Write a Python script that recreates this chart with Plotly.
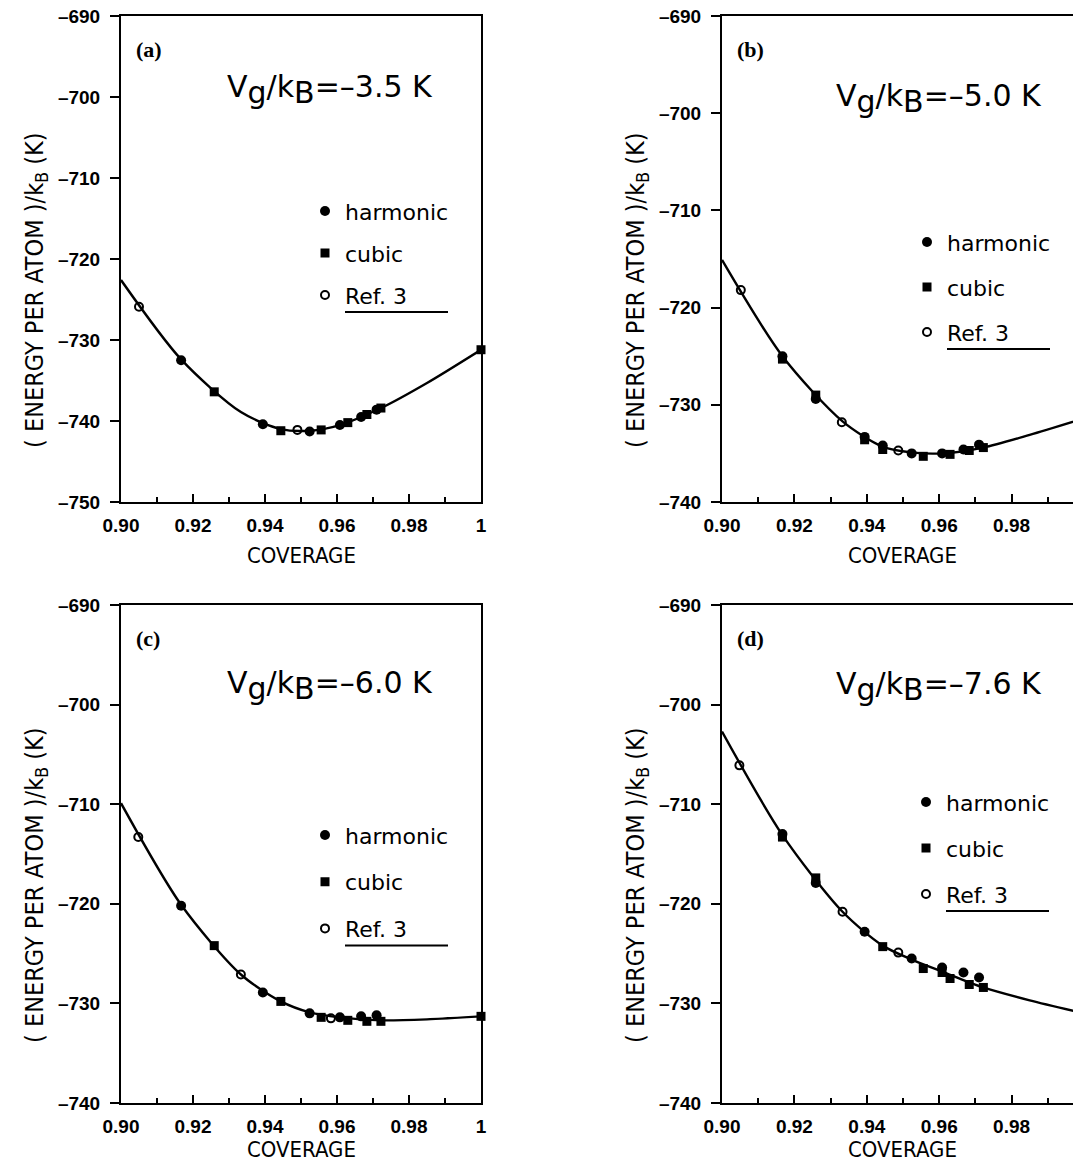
import plotly.graph_objects as go

W, H = 1081, 1160
OFF = 8  # the page body adds an 8 px margin; screen px = figure px + OFF

# ---------------- data ----------------
coverage_ticks = [0.90, 0.92, 0.94, 0.96, 0.98, 1.0]
coverage_ticktext = ["0.90", "0.92", "0.94", "0.96", "0.98", "1"]
energy_ticks_a = [-750, -740, -730, -720, -710, -700, -690]
energy_ticks_bcd = [-740, -730, -720, -710, -700, -690]

panel_letters = ["(a)", "(b)", "(c)", "(d)"]
vg_values = ["3.5", "5.0", "6.0", "7.6"]

# panel (a)  Vg/kB = -3.5 K
harm_x_a = [0.9167, 0.9394, 0.9524, 0.9608, 0.9667, 0.9710]
harm_y_a = [-732.5, -740.4, -741.3, -740.5, -739.5, -738.6]
cub_x_a = [0.9259, 0.9444, 0.9556, 0.9630, 0.9683, 0.9722, 1.0]
cub_y_a = [-736.4, -741.2, -741.1, -740.2, -739.2, -738.4, -731.2]
ref_x_a = [0.9050, 0.9490]
ref_y_a = [-725.9, -741.1]
fit_x_a = [0.90, 0.9167, 0.9333, 0.9444, 0.9524, 0.9608, 0.9722, 0.985, 1.0]
fit_y_a = [-722.6, -732.4, -738.9, -741.0, -741.2, -740.5, -738.4, -735.3, -731.2]

# panel (b)  Vg/kB = -5.0 K
harm_x_b = [0.9167, 0.9259, 0.9394, 0.9444, 0.9524, 0.9608, 0.9667, 0.9710]
harm_y_b = [-725.0, -729.4, -733.3, -734.2, -735.0, -735.0, -734.6, -734.1]
cub_x_b = [0.9167, 0.9259, 0.9394, 0.9444, 0.9556, 0.9630, 0.9683, 0.9722, 1.0]
cub_y_b = [-725.3, -729.0, -733.6, -734.6, -735.3, -735.1, -734.7, -734.4, -731.4]
ref_x_b = [0.9052, 0.9331, 0.9487]
ref_y_b = [-718.2, -731.8, -734.7]
fit_x_b = [0.90, 0.9167, 0.9333, 0.9444, 0.9524, 0.9608, 0.9722, 0.985, 1.0]
fit_y_b = [-715.1, -725.0, -731.7, -734.3, -734.9, -735.0, -734.4, -733.1, -731.4]

# panel (c)  Vg/kB = -6.0 K
harm_x_c = [0.9167, 0.9394, 0.9524, 0.9608, 0.9667, 0.9710]
harm_y_c = [-720.2, -728.9, -731.0, -731.4, -731.3, -731.2]
cub_x_c = [0.9259, 0.9444, 0.9556, 0.9630, 0.9683, 0.9722, 1.0]
cub_y_c = [-724.2, -729.8, -731.4, -731.7, -731.8, -731.8, -731.3]
ref_x_c = [0.9048, 0.9333, 0.9583]
ref_y_c = [-713.3, -727.1, -731.5]
fit_x_c = [0.90, 0.9167, 0.9333, 0.9444, 0.9524, 0.9608, 0.9722, 0.985, 1.0]
fit_y_c = [-709.9, -720.1, -727.1, -729.8, -730.9, -731.4, -731.7, -731.6, -731.3]

# panel (d)  Vg/kB = -7.6 K
harm_x_d = [0.9167, 0.9259, 0.9394, 0.9524, 0.9608, 0.9667, 0.9710]
harm_y_d = [-713.0, -717.9, -722.8, -725.5, -726.4, -726.9, -727.4]
cub_x_d = [0.9167, 0.9259, 0.9444, 0.9556, 0.9608, 0.9630, 0.9683, 0.9722, 1.0]
cub_y_d = [-713.3, -717.4, -724.3, -726.5, -726.9, -727.5, -728.1, -728.4, -731.0]
ref_x_d = [0.9048, 0.9333, 0.9487]
ref_y_d = [-706.1, -720.8, -724.9]
fit_x_d = [0.90, 0.9167, 0.9333, 0.9444, 0.9524, 0.9608, 0.9722, 0.985, 1.0]
fit_y_d = [-702.7, -713.1, -720.8, -724.2, -725.6, -726.8, -728.4, -729.7, -731.0]

# ---------------- layout geometry (screen pixels) ----------------
# left, right, top, bottom of each plotting frame
frames = [
    (121, 481, 16, 502),
    (722, 1084, 16, 502),
    (121, 481, 605, 1103),
    (722, 1084, 605, 1103),
]
xranges = [[0.9, 1.0]] * 4
yranges = [[-750, -690], [-740, -690], [-740, -690], [-740, -690]]
yticks = [energy_ticks_a, energy_ticks_bcd, energy_ticks_bcd, energy_ticks_bcd]
xtitle_gap = [54, 54, 46, 46]

# legend block: (text-left px, first-row-centre px, row spacing px)
legend_geo = [(345, 211, 42), (947, 242, 45), (345, 835, 46.7), (946, 802, 46)]
vg_pos = [(0.58, 0.848), (0.60, 0.83), (0.58, 0.838), (0.60, 0.837)]

panels = [
    (harm_x_a, harm_y_a, cub_x_a, cub_y_a, ref_x_a, ref_y_a, fit_x_a, fit_y_a),
    (harm_x_b, harm_y_b, cub_x_b, cub_y_b, ref_x_b, ref_y_b, fit_x_b, fit_y_b),
    (harm_x_c, harm_y_c, cub_x_c, cub_y_c, ref_x_c, ref_y_c, fit_x_c, fit_y_c),
    (harm_x_d, harm_y_d, cub_x_d, cub_y_d, ref_x_d, ref_y_d, fit_x_d, fit_y_d),
]

SANS = "DejaVu Sans, Liberation Sans, sans-serif"
COND = "DejaVu Sans Condensed, Liberation Sans Narrow, Liberation Sans, sans-serif"
TICKF = dict(family="Liberation Sans, Arial, sans-serif", size=19, color="black", weight="bold")


def px_x(v):
    return (v - OFF) / W


def px_y(v):
    return 1 - (v - OFF) / H


fig = go.Figure()
layout = dict(width=W, height=H, margin=dict(l=0, r=0, t=0, b=0, autoexpand=False),
              paper_bgcolor="white", plot_bgcolor="white", showlegend=True)
annotations = []
shapes = []

for i, (hx, hy, cx, cy, rx, ry, fx, fy) in enumerate(panels):
    n = "" if i == 0 else str(i + 1)
    xa, ya = "x" + n, "y" + n
    lg = "legend" + n
    L, R, T, B = frames[i]
    fig.add_trace(go.Scatter(x=fx, y=fy, mode="lines", line=dict(color="black", width=2.4,
                             shape="spline", smoothing=0.8), xaxis=xa, yaxis=ya,
                             showlegend=False, hoverinfo="skip", cliponaxis=True))
    fig.add_trace(go.Scatter(x=hx, y=hy, mode="markers", name="harmonic", legend=lg,
                             legendgroup=f"h{i}", marker=dict(symbol="circle", size=10, color="black"),
                             xaxis=xa, yaxis=ya, cliponaxis=False))
    fig.add_trace(go.Scatter(x=cx, y=cy, mode="markers", name="cubic", legend=lg,
                             legendgroup=f"c{i}", marker=dict(symbol="square", size=9, color="black"),
                             xaxis=xa, yaxis=ya, cliponaxis=False))
    fig.add_trace(go.Scatter(x=rx, y=ry, mode="markers", name="Ref. 3", legend=lg,
                             legendgroup=f"r{i}",
                             marker=dict(symbol="circle-open", size=8, color="black",
                                         line=dict(width=2, color="black")),
                             xaxis=xa, yaxis=ya, cliponaxis=False))

    xdom = [px_x(L), min(1.0, px_x(R))]
    ydom = [px_y(B), px_y(T)]
    axis_common = dict(showgrid=False, zeroline=False, showline=True, linecolor="black",
                       linewidth=2, tickcolor="black", tickwidth=2, tickfont=TICKF,
                       ticklabeloverflow="allow")
    layout["xaxis" + n] = dict(axis_common, domain=xdom, range=xranges[i], anchor=ya,
                               tickvals=coverage_ticks, ticktext=coverage_ticktext,
                               ticks="inside", ticklen=8, mirror=True,
                               ticklabelstandoff=5,
                               minor=dict(dtick=0.01, tick0=0.9, ticks="inside", ticklen=5,
                                          tickwidth=1.5, tickcolor="black"))
    layout["yaxis" + n] = dict(axis_common, domain=ydom, range=yranges[i], anchor=xa,
                               tickvals=yticks[i],
                               ticktext=["–" + str(abs(v)) for v in yticks[i]],
                               ticks="outside", ticklen=9,
                               mirror=True, ticklabelstandoff=6)

    tl, r0, sp = legend_geo[i]
    ih = 31.6
    layout[lg] = dict(x=px_x(tl - 40), y=px_y(r0 - ih / 2 - 5), xanchor="left", yanchor="top",
                      bgcolor="rgba(0,0,0,0)", borderwidth=0,
                      font=dict(family=SANS, size=22, color="black"),
                      traceorder="grouped", tracegroupgap=sp - ih, itemwidth=30)
    # underline under "Ref. 3"
    yl = r0 + 2 * sp + 17
    shapes.append(dict(type="line", xref=xa + " domain", yref=ya + " domain",
                       x0=(tl - L) / (R - L), x1=(tl + 103 - L) / (R - L),
                       y0=(B - yl) / (B - T), y1=(B - yl) / (B - T),
                       line=dict(color="black", width=2)))
    # panel letter
    annotations.append(dict(text="<b>" + panel_letters[i] + "</b>", xref=xa + " domain",
                            yref=ya + " domain", x=0.035, y=0.932, xanchor="left", yanchor="middle",
                            showarrow=False,
                            font=dict(family="Liberation Serif, Times New Roman, serif", size=22,
                                      color="black")))
    # Vg label
    vx, vy = vg_pos[i]
    annotations.append(dict(text="V<sub><span style='font-size:30px'>g</span></sub>/k"
                                 "<sub><span style='font-size:30px'>B</span></sub>=–" + vg_values[i] + " K",
                            xref=xa + " domain", yref=ya + " domain", x=vx, y=vy,
                            xanchor="center", yanchor="middle", showarrow=False,
                            font=dict(family=SANS, size=30, color="black")))
    # x title
    annotations.append(dict(text="COVERAGE", xref="paper", yref="paper",
                            x=px_x(L + 180),
                            y=px_y(B + xtitle_gap[i]), xanchor="center", yanchor="middle",
                            showarrow=False, font=dict(family=COND, size=22, color="black")))
    # y title
    annotations.append(dict(text="( ENERGY PER ATOM )/k<sub>B</sub> (K)", xref="paper", yref="paper",
                            x=px_x(L - 85), y=px_y((T + B) / 2 + 32), textangle=-90,
                            xanchor="center", yanchor="middle", showarrow=False,
                            font=dict(family=COND, size=25, color="black")))

layout["annotations"] = annotations
layout["shapes"] = shapes
fig.update_layout(**layout)
fig.write_html("out.html")
